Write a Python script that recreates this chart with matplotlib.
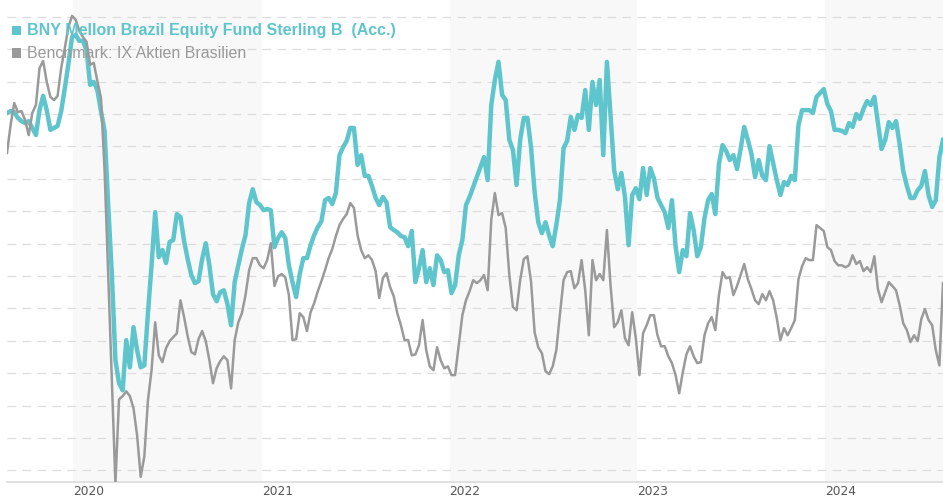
import numpy as np
import pandas as pd
import matplotlib
matplotlib.use("Agg")
import matplotlib.pyplot as plt

plt.rcParams['font.family'] = ['Liberation Sans', 'DejaVu Sans']

# weekly closes, Aug 2019 - Aug 2024 (indexed)
dates = pd.date_range('2019-08-25', '2024-08-17', periods=260)

fund = [
    110.3, 110.9, 110.6, 108.8, 107.8, 107.2, 107.8, 105.7, 103.5, 111.2,
    115.6, 111.2, 105.1, 105.7, 106.3, 110.9, 118.0, 125.5, 133.8, 134.4,
    132.6, 132.6, 129.8, 119.0, 119.9, 117.4, 110.9, 104.8, 81.9, 60.9,
    34.0, 26.9, 24.7, 40.2, 31.8, 44.2, 37.1, 31.8, 32.4, 48.5,
    63.3, 79.7, 65.8, 68.0, 64.0, 70.5, 71.1, 79.1, 78.2, 70.8,
    65.2, 60.3, 57.8, 58.4, 65.2, 70.1, 63.3, 54.4, 52.2, 55.0,
    55.6, 51.3, 44.8, 58.1, 63.3, 68.3, 72.6, 82.5, 86.8, 82.8,
    81.9, 80.3, 80.7, 80.3, 68.9, 71.7, 73.5, 71.7, 63.3, 58.1,
    53.5, 60.6, 65.5, 65.5, 69.5, 72.6, 75.1, 76.9, 83.4, 84.1,
    82.2, 85.6, 97.3, 99.8, 101.7, 105.7, 105.7, 94.3, 97.3, 90.9,
    90.9, 87.8, 84.1, 81.9, 84.4, 82.8, 75.1, 74.2, 73.5, 72.3,
    72.0, 69.2, 73.9, 58.1, 62.4, 68.0, 58.1, 62.4, 57.2, 66.4,
    64.9, 61.2, 61.8, 54.7, 57.2, 66.4, 71.1, 81.9, 84.4, 87.5,
    90.5, 93.6, 96.7, 89.6, 112.8, 120.5, 126.1, 115.9, 114.3, 102.0,
    98.9, 88.1, 102.0, 108.8, 108.8, 99.8, 85.9, 76.6, 73.2, 76.6,
    72.6, 69.2, 75.7, 83.4, 99.5, 101.7, 109.1, 105.1, 109.7, 108.8,
    117.4, 105.1, 119.9, 112.8, 120.5, 97.3, 126.1, 109.7, 92.7, 86.8,
    91.8, 84.4, 69.5, 85.0, 87.1, 83.7, 93.3, 85.0, 93.3, 90.2,
    84.1, 81.9, 79.7, 74.8, 83.4, 69.2, 61.2, 68.0, 66.1, 79.4,
    74.2, 66.1, 68.9, 77.9, 83.4, 85.3, 79.1, 94.6, 100.4, 98.6,
    95.8, 97.3, 93.0, 99.2, 106.0, 102.0, 97.7, 90.5, 95.8, 90.9,
    89.6, 100.1, 94.9, 89.6, 85.0, 89.0, 88.1, 90.9, 89.6, 106.6,
    111.2, 111.2, 111.2, 110.3, 115.3, 116.5, 117.7, 113.1, 110.9, 105.1,
    105.1, 104.8, 104.1, 107.2, 106.0, 110.0, 108.5, 111.6, 114.0, 112.8,
    115.3, 107.2, 99.2, 102.0, 107.5, 105.7, 107.8, 100.7, 92.4, 87.8,
    84.1, 84.1, 86.5, 87.8, 92.4, 85.0, 81.3, 83.4, 96.7, 102.0,
]

benchmark = [
    98.0, 106.6, 113.4, 110.6, 110.9, 108.2, 103.5, 110.3, 112.8, 124.2,
    126.4, 119.9, 115.3, 114.3, 115.6, 124.2, 130.4, 136.9, 140.3, 139.1,
    135.7, 133.8, 132.3, 125.2, 125.8, 120.2, 115.0, 92.7, 60.3, 28.4,
    -4.0, 21.9, 22.9, 24.4, 22.9, 19.2, 10.8, -2.0, 4.3, 21.6,
    30.9, 45.7, 35.5, 33.4, 37.7, 39.9, 41.1, 42.3, 52.5, 47.3,
    41.4, 36.5, 35.8, 40.5, 43.0, 39.9, 34.0, 26.9, 31.5, 33.7,
    35.2, 34.0, 25.3, 40.2, 45.7, 48.5, 54.1, 61.8, 65.5, 65.5,
    63.3, 62.4, 64.9, 70.1, 56.9, 59.9, 60.6, 59.6, 54.1, 40.2,
    40.5, 48.5, 47.3, 43.0, 48.8, 51.6, 55.3, 58.4, 61.8, 65.5,
    68.3, 72.3, 75.7, 77.6, 79.1, 82.5, 81.0, 72.6, 68.0, 65.5,
    66.4, 64.9, 61.5, 53.2, 59.3, 60.9, 56.6, 53.8, 48.5, 44.8,
    40.2, 40.2, 35.5, 35.8, 38.6, 46.4, 37.1, 32.1, 30.9, 38.0,
    34.0, 31.5, 32.1, 29.4, 29.4, 38.6, 47.9, 52.5, 55.3, 58.7,
    57.8, 58.7, 60.3, 55.6, 77.3, 85.6, 78.8, 79.4, 74.8, 60.3,
    50.4, 49.4, 58.7, 65.2, 66.1, 58.4, 42.6, 38.0, 36.2, 30.6,
    29.7, 32.1, 37.1, 48.2, 58.7, 61.2, 61.5, 56.2, 57.8, 64.9,
    55.6, 41.7, 64.9, 58.7, 60.6, 58.7, 74.2, 57.2, 44.2, 45.7,
    49.4, 40.8, 38.6, 48.8, 40.8, 29.4, 42.3, 44.8, 47.9, 47.9,
    41.7, 38.3, 38.3, 35.2, 33.1, 29.4, 23.8, 30.3, 35.8, 38.3,
    35.2, 33.1, 33.4, 41.7, 45.4, 47.3, 43.3, 54.1, 61.2, 59.3,
    59.6, 54.1, 56.9, 60.3, 63.7, 59.0, 55.9, 52.5, 51.3, 54.4,
    52.5, 55.3, 52.5, 47.0, 40.2, 43.9, 41.7, 43.9, 46.4, 59.0,
    63.0, 65.5, 64.9, 64.9, 75.7, 74.8, 73.9, 68.9, 68.0, 64.6,
    63.3, 63.3, 62.7, 63.3, 66.4, 63.7, 64.6, 61.5, 62.7, 61.2,
    66.1, 55.9, 51.9, 55.0, 58.1, 56.9, 55.6, 51.0, 45.4, 43.3,
    39.6, 41.7, 39.9, 46.7, 49.8, 46.4, 44.8, 37.1, 32.4, 57.8,
]

years = [2020, 2021, 2022, 2023, 2024]
shaded_years = [2020, 2022, 2024]

fund_name = 'BNY Mellon Brazil Equity Fund Sterling B  (Acc.)'
bench_name = 'Benchmark: IX Aktien Brasilien'
teal = '#5ec5cc'
grey = '#9a9a9a'

fig = plt.figure(figsize=(9.43, 5.0), dpi=100)
ax = fig.add_axes([7 / 943, 18 / 500, 936 / 943, 482 / 500])

for yr in shaded_years:
    ax.axvspan(pd.Timestamp(f'{yr}-01-01'), pd.Timestamp(f'{yr + 1}-01-01'),
               color='#f8f8f8', zorder=0, lw=0)

ax.plot(dates, fund, color=teal, lw=3.2, zorder=3, solid_joinstyle='round')
ax.plot(dates, benchmark, color=grey, lw=1.8, zorder=4, solid_joinstyle='round')

ax.set_xlim(dates[0], dates[-1])
ax.set_ylim(-3.6, 145.2)
ax.set_yticks(np.arange(0, 141, 10))
ax.yaxis.grid(True, color='#dddddd', linestyle=(0, (7, 5)), linewidth=0.9)
ax.set_axisbelow(True)
ax.tick_params(axis='y', left=False, labelleft=False)

ax.set_xticks([pd.Timestamp(f'{y}-01-01') for y in years])
ax.set_xticklabels([str(y) for y in years], fontsize=8.8, color='#555555',
                   family='DejaVu Sans')
for lbl in ax.get_xticklabels():
    lbl.set_horizontalalignment('left')
ax.tick_params(axis='x', length=0, pad=2.5)

for side in ['top', 'right', 'left']:
    ax.spines[side].set_visible(False)
ax.spines['bottom'].set_color('#dcdcdc')
ax.spines['bottom'].set_linewidth(1.2)

# legend drawn on top of the lines
for row, (name, col, weight) in enumerate([(fund_name, teal, 'bold'),
                                           (bench_name, grey, 'normal')]):
    yc = 1 - (30 + 23 * row) / 500
    fig.patches.append(plt.Rectangle((12 / 943, yc - 4.5 / 500), 9 / 943, 9 / 500,
                                     transform=fig.transFigure, color=col,
                                     zorder=10, lw=0))
    fig.text(27 / 943, yc, name, color=col, fontsize=11.5, fontweight=weight,
             va='center', zorder=10)

fig.savefig('out.png', dpi=100)
